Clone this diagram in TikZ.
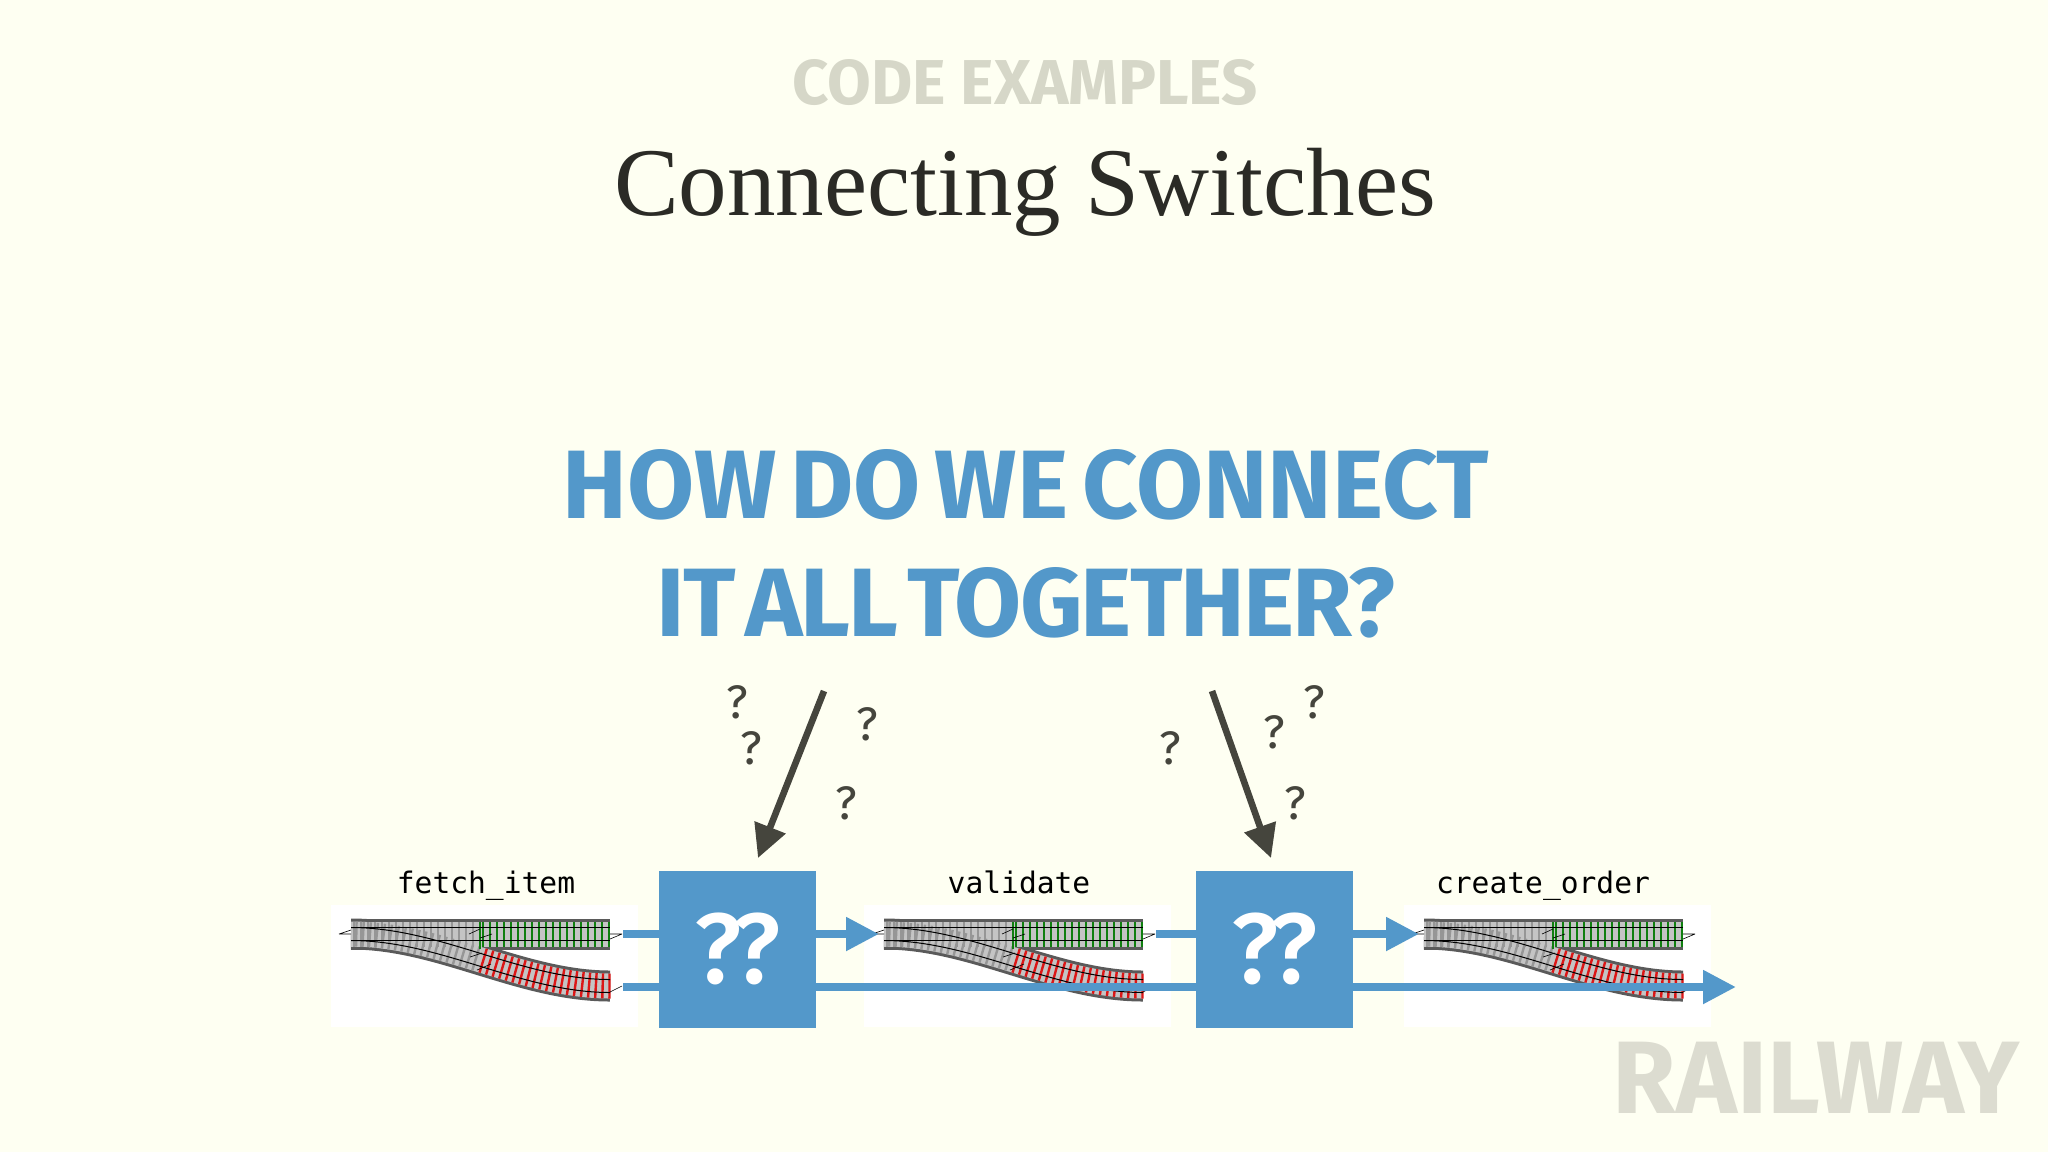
\documentclass[tikz,border=0pt]{standalone}
\usepackage{fontspec}
\setmainfont{Fira Sans}
\setmonofont{DejaVu Sans Mono}
\newfontfamily\titlefont{Liberation Serif}
\newfontfamily\headonefont[WordSpace=0.6]{Fira Sans Bold}
\newfontfamily\headtwofont[WordSpace=0.45,LetterSpace=-2]{Fira Sans Bold}
\newfontfamily\boxfont[LetterSpace=-6]{Fira Sans Medium}
\usetikzlibrary{arrows.meta,decorations.markings}

\definecolor{paper}{HTML}{FEFFF2}
\definecolor{flowblue}{HTML}{5398CA}
\definecolor{inkdark}{HTML}{45453D}
\definecolor{inktitle}{HTML}{2B2B26}
\definecolor{faded}{HTML}{D6D7C8}
\definecolor{fadedlogo}{HTML}{DCDCD0}
\definecolor{trackedge}{HTML}{5A5A5A}
\definecolor{trackbed}{HTML}{C4C4C4}
\definecolor{tiegrey}{HTML}{969696}
\definecolor{tiegreen}{HTML}{0F7F0F}
\definecolor{tiered}{HTML}{DC1616}

\tikzset{
  headline/.style={anchor=base,inner sep=0pt,flowblue},
  fnlabel/.style={anchor=base,inner sep=0pt,black,font=\ttfamily\fontsize{14.8pt}{17pt}\selectfont},
  qbox/.style={fill=flowblue,minimum size=78.5pt,inner sep=0pt,text=white,font=\boxfont\fontsize{50pt}{60pt}\selectfont},
  qmark/.style={inner sep=0pt,inkdark,font=\fontsize{23.5pt}{28pt}\selectfont},
  flowline/.style={draw=flowblue,line width=4pt},
  flowarrow/.style={flowline,-{Triangle[length=16.5pt,width=16pt]}},
  askarrow/.style={draw=inkdark,line width=3.3pt,-{Triangle[length=16.5pt,width=16pt]}},
  rail/.style={draw=black,line width=0.5pt},
  jointmark/.style={draw=black,line width=0.3pt},
  switchpic/.pic={
    % backing
    \fill[white] (-20,-29) rectangle (287,93);
    % bed
    \draw[trackedge,line width=15.5pt] (0,0) -- (259,0);
    \draw[trackedge,line width=15.5pt] (0,0) .. controls (90,0) and (170,52) .. (259,52);
    \draw[trackbed,line width=12.5pt] (0,0) -- (259,0);
    \draw[trackbed,line width=12.5pt] (0,0) .. controls (90,0) and (170,52) .. (259,52);
    % ties
    \foreach \x in {3,10,...,129} \draw[tiegrey,line width=1.2pt] (\x,-12.5) -- (\x,12.5);
    \foreach \x in {132,139,...,258} \draw[tiegreen,line width=1.2pt] (\x,-12.5) -- (\x,12.5);
    \path[postaction={decorate},decoration={markings,
        mark=between positions 0.02 and 0.5 step 3.4pt with {\draw[tiegrey,line width=1.2pt] (0,-12.5) -- (0,12.5);},
        mark=between positions 0.51 and 1 step 3.4pt with {\draw[tiered,line width=1.2pt] (0,-12.5) -- (0,12.5);}}]
      (0,0) .. controls (90,0) and (170,52) .. (259,52);
    \draw[tiegreen,line width=1pt] (129,-12.5) -- (129,15);
    % rails
    \draw[rail] (0,-6.5) -- (259,-6.5);
    \draw[rail] (0,6.5) -- (259,6.5);
    \draw[rail] (0,-6.5) .. controls (90,-6.5) and (170,45.5) .. (259,45.5);
    \draw[rail] (0,6.5) .. controls (90,6.5) and (170,58.5) .. (259,58.5);
    % joints
    \draw[jointmark] (-12,0) -- (0,-4) (-12,0) -- (0,0);
    \draw[jointmark] (259,5) -- (271,0) (259,0) -- (271,0);
    \draw[jointmark] (118,0) -- (129,-5) (129,4) -- (141,0);
    \draw[jointmark] (119,23) -- (131,19) (126,36) -- (140,30);
    \draw[jointmark] (259,58) -- (271,52);
    % ports
    \coordinate (-okin) at (-5,0);
    \coordinate (-okout) at (272,0);
    \coordinate (-errout) at (272,53);
  }
}

\begin{document}
\begin{tikzpicture}[x=0.5pt,y=-0.5pt]
  \useasboundingbox (0,0) rectangle (2048,1152);
  \fill[paper] (0,0) rectangle (2048,1152);

  % Titles
  \node[anchor=base,inner sep=0pt,faded,font=\bfseries\fontsize{31.7pt}{37pt}\selectfont] (section) at (1025,104) {CODE EXAMPLES};
  \node[anchor=base,inner sep=0pt,inktitle,font=\titlefont\fontsize{48.5pt}{60pt}\selectfont] (title) at (1025,215) {Connecting Switches};
  \node[headline,font=\headonefont\fontsize{48.6pt}{58pt}\selectfont] (askone) at (1026,518) {HOW DO WE CONNECT};
  \node[headline,font=\headtwofont\fontsize{48.6pt}{58pt}\selectfont] (asktwo) at (1026,636) {IT ALL TOGETHER?};

  % Switches
  \pic (fetchsw) at (351,934) {switchpic};
  \pic (validsw) at (884,934) {switchpic};
  \pic (ordersw) at (1424,934) {switchpic};

  % Labels
  \node[fnlabel] (fetchlabel) at (486,893) {fetch\_item};
  \node[fnlabel] (validlabel) at (1019,893) {validate};
  \node[fnlabel] (orderlabel) at (1543,893) {create\_order};

  % Unknown boxes
  \node[qbox] (boxa) at (737.5,949) {??};
  \node[qbox] (boxb) at (1274.5,949) {??};

  %% Lines
  \draw[flowline] (fetchsw-okout) -- (fetchsw-okout -| boxa.west);
  \draw[flowline] (fetchsw-errout) -- (fetchsw-errout -| boxa.west);
  \draw[flowarrow] (validsw-okin -| boxa.east) -- (validsw-okin);
  \draw[flowline] (fetchsw-errout -| boxa.east) -- (fetchsw-errout -| boxb.west);
  \draw[flowline] (validsw-okout) -- (validsw-okout -| boxb.west);
  \draw[flowarrow] (ordersw-okin -| boxb.east) -- (ordersw-okin);
  \coordinate (endtip) at (1736,987);
  \draw[flowarrow] (fetchsw-errout -| boxb.east) -- (endtip);

  %% Question arrows
  \coordinate (askfroma) at (824,691);
  \coordinate (asktoa) at (758,858);
  \coordinate (askfromb) at (1212,691);
  \coordinate (asktob) at (1271,858);
  \draw[askarrow] (askfroma) -- (asktoa);
  \draw[askarrow] (askfromb) -- (asktob);

  \node[qmark] (qa) at (737,702) {?};
  \node[qmark] (qb) at (751,748) {?};
  \node[qmark] (qc) at (867,724) {?};
  \node[qmark] (qd) at (846,803) {?};
  \node[qmark] (qe) at (1314,702) {?};
  \node[qmark] (qf) at (1274,732) {?};
  \node[qmark] (qg) at (1170,748) {?};
  \node[qmark] (qh) at (1295,803) {?};

  % Logo
  \node[anchor=base,inner sep=0pt,fadedlogo,font=\bfseries\fontsize{51.5pt}{60pt}\selectfont] (logo) at (1816,1113) {RAILWAY};
\end{tikzpicture}
\end{document}
